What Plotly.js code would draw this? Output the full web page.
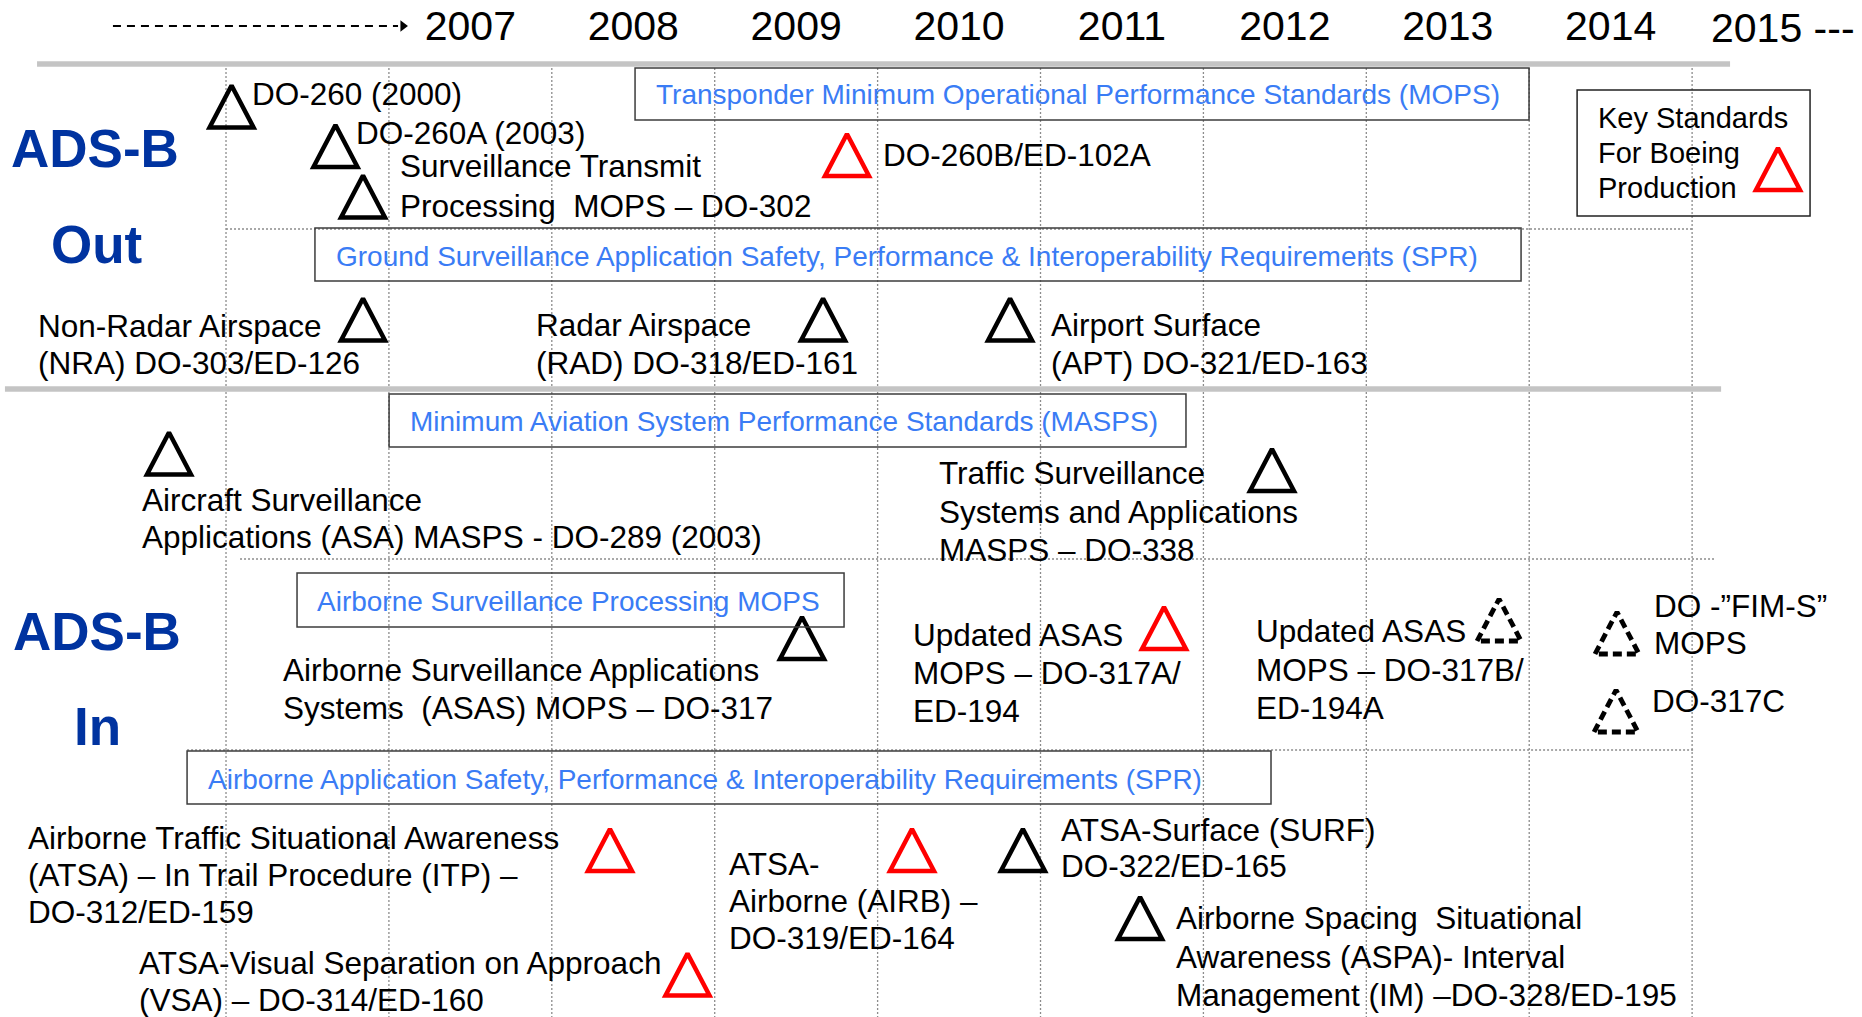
<!DOCTYPE html>
<html><head><meta charset="utf-8">
<script src="https://cdn.plot.ly/plotly-3.0.1.min.js"></script>
<style>html,body{margin:0;padding:0;background:#fff;overflow:hidden}#chart{width:1862px;height:1017px}</style>
</head><body><div id="chart"></div>
<script>
// ---------------- data ----------------
const yearLabels = [2007, 2008, 2009, 2010, 2011, 2012, 2013, 2014];
const gridYears = [2005.5, 2006.5, 2007.5, 2008.5, 2009.5, 2010.5, 2011.5, 2012.5, 2013.5, 2014.5];

// standards (triangles): timeline position (year) and row position
const stdNames = ['DO-260', 'DO-260A', 'DO-302', 'DO-260B/ED-102A', 'DO-303/ED-126', 'DO-318/ED-161',
  'DO-321/ED-163', 'DO-289', 'DO-338', 'DO-317', 'DO-317A/ED-194', 'DO-317B/ED-194A', 'DO-FIM-S',
  'DO-317C', 'DO-312/ED-159', 'DO-314/ED-160', 'DO-319/ED-164', 'DO-322/ED-165', 'DO-328/ED-195'];
const stdYear = [2005.534, 2006.172, 2006.341, 2009.312, 2006.341, 2009.165, 2010.313, 2005.150, 2011.921,
  2009.036, 2011.258, 2013.315, 2014.039, 2014.033, 2007.857, 2008.333, 2009.711, 2010.392, 2011.111];
const stdRow = [106.5, 146, 196.5, 155, 319.5, 319.5, 319.5, 453.5, 470, 638, 628, 620, 633, 711,
  850, 974.5, 850, 850, 918];
const stdStatus = ['pub', 'pub', 'pub', 'boeing', 'pub', 'pub', 'pub', 'pub', 'pub', 'pub', 'boeing',
  'planned', 'planned', 'planned', 'boeing', 'boeing', 'boeing', 'pub', 'pub'];

// labels of the standards
const labelLines = [
  ['DO-260 (2000)'],
  ['DO-260A (2003)'],
  ['Surveillance Transmit', 'Processing\u00a0 MOPS – DO-302'],
  ['DO-260B/ED-102A'],
  ['Non-Radar Airspace', '(NRA) DO-303/ED-126'],
  ['Radar Airspace', '(RAD) DO-318/ED-161'],
  ['Airport Surface', '(APT) DO-321/ED-163'],
  ['Aircraft Surveillance', 'Applications (ASA) MASPS - DO-289 (2003)'],
  ['Traffic Surveillance', 'Systems and Applications', 'MASPS – DO-338'],
  ['Airborne Surveillance Applications', 'Systems\u00a0 (ASAS) MOPS – DO-317'],
  ['Updated ASAS', 'MOPS – DO-317A/', 'ED-194'],
  ['Updated ASAS', 'MOPS – DO-317B/', 'ED-194A'],
  ['DO -”FIM-S”', 'MOPS'],
  ['DO-317C'],
  ['Airborne Traffic Situational Awareness', '(ATSA) – In Trail Procedure (ITP) –', 'DO-312/ED-159'],
  ['ATSA-Visual Separation on Approach', '(VSA) – DO-314/ED-160'],
  ['ATSA-', 'Airborne (AIRB) –', 'DO-319/ED-164'],
  ['ATSA-Surface (SURF)', 'DO-322/ED-165'],
  ['Airborne Spacing\u00a0 Situational', 'Awareness (ASPA)- Interval', 'Management (IM) –DO-328/ED-195']
];

// document groups (boxes)
const groupNames = ['Transponder Minimum Operational Performance Standards (MOPS)',
  'Ground Surveillance Application Safety, Performance & Interoperability Requirements (SPR)',
  'Minimum Aviation System Performance Standards (MASPS)',
  'Airborne Surveillance Processing MOPS',
  'Airborne Application Safety, Performance & Interoperability Requirements (SPR)'];
const groupStart = [2008.011, 2006.046, 2006.501, 2005.936, 2005.261];
const groupEnd = [2013.499, 2013.450, 2011.393, 2009.294, 2011.915];

const sectionNames = ['ADS-B', 'Out', 'ADS-B', 'In'];
const keyLines = ['Key Standards', 'For Boeing', 'Production'];

// ---------------- layout helpers (positions / styles) ----------------
const FONT = 'Liberation Sans, Arial, Helvetica, sans-serif';
const PX_PER_YEAR = 162.9;
const X0 = 2004.1126, X1 = X0 + 1862 / PX_PER_YEAR;
const labelPos = [
  [2005.651, 94, 38], [2006.289, 133, 38], [2006.562, 166, 40], [2009.527, 155, 38],
  [2004.340, 326, 37], [2007.394, 325, 38], [2010.558, 325, 38], [2004.978, 500, 37],
  [2009.871, 473, 38.5], [2005.844, 670, 38], [2009.711, 635, 38], [2011.814, 631, 38.5],
  [2014.257, 606, 37], [2014.248, 701, 38], [2004.278, 838, 37], [2004.960, 963, 36.5],
  [2008.579, 864, 37], [2010.620, 830, 36], [2011.323, 918, 38.5]
];
const groupBoxY = [[68, 120], [228, 281], [394, 447], [573, 627], [751, 804]];
const groupTextPos = [[2008.134, 94], [2006.169, 256], [2006.623, 421], [2006.052, 601], [2005.383, 779]];
const sectionPos = [[2004.696, 148], [2004.705, 244], [2004.711, 631], [2004.711, 726]];

const HW = 22 / PX_PER_YEAR, HH = 21;
function triangles(status, closeTwice) {
  const X = [], Y = [];
  stdYear.forEach((x, i) => {
    if (stdStatus[i] !== status) return;
    const y = stdRow[i];
    X.push(x - HW, x, x + HW, x - HW); Y.push(y + HH, y - HH, y + HH, y + HH);
    if (closeTwice) { X.push(x); Y.push(y - HH); }
    X.push(null); Y.push(null);
  });
  return { X, Y };
}
function lineTrace(x, y, color, width, dash) {
  return { type: 'scatter', mode: 'lines', x, y, hoverinfo: 'skip', showlegend: false,
    line: { color, width, dash: dash || 'solid' } };
}

const traces = [];
// vertical dotted year grid
const gx = [], gy = [];
gridYears.forEach(g => { gx.push(g, g, null); gy.push(64, 1017, null); });
traces.push(lineTrace(gx, gy, '#8c8c8c', 1.3, '2px,2px'));
// horizontal dotted separators
traces.push(lineTrace([2005.5, 2014.5, null, 2005.586, 2014.640, null, 2005.261, 2014.512],
  [229, 229, null, 559, 559, null, 750, 750], '#8c8c8c', 1.3, '2px,2px'));
// thick gray section rules
traces.push(lineTrace([2004.340, 2014.733], [64, 64], '#c4c4c4', 5.5));
traces.push(lineTrace([2004.143, 2014.678], [389, 389], '#c4c4c4', 5.5));
// dashed timeline arrow
traces.push(lineTrace([2004.806, 2006.556], [26, 26], '#000', 2.2, '8px,6px'));
traces.push({ type: 'scatter', mode: 'markers', x: [2006.586], y: [26], hoverinfo: 'skip', showlegend: false,
  marker: { symbol: 'triangle-right', size: 10, color: '#000' } });
// year labels
traces.push({ type: 'scatter', mode: 'text', x: yearLabels, y: yearLabels.map(() => 30),
  text: yearLabels.map(String), textposition: 'middle center', hoverinfo: 'skip', showlegend: false,
  textfont: { family: FONT, size: 41, color: '#000' } });
// triangles
const tPub = triangles('pub', true), tBoe = triangles('boeing', true), tPlan = triangles('planned', false);
traces.push(lineTrace(tPub.X, tPub.Y, '#000000', 4.5));
traces.push(lineTrace(tBoe.X, tBoe.Y, '#ff0000', 4.5));
traces.push(lineTrace(tPlan.X, tPlan.Y, '#000000', 4.8, '9px,5px'));
// key triangle
const kx = 2015.027, ky = 169;
traces.push(lineTrace([kx - HW, kx, kx + HW, kx - HW, kx], [ky + HH, ky - HH, ky + HH, ky + HH, ky - HH], '#ff0000', 4.5));

// annotations
const annotations = [];
function addText(text, x, y, size, color, anchor, bold) {
  annotations.push({ x, y, xref: 'x', yref: 'y', text: bold ? '<b>' + text + '</b>' : text, showarrow: false,
    xanchor: anchor || 'left', yanchor: 'middle', borderpad: 0,
    font: { family: FONT, size, color } });
}
labelLines.forEach((lines, i) => {
  const [x, y, sp] = labelPos[i];
  lines.forEach((t, j) => addText(t, x, y + j * sp, 31.5, '#000'));
});
groupNames.forEach((t, i) => addText(t, groupTextPos[i][0], groupTextPos[i][1], 28, '#3a7cf5'));
sectionNames.forEach((t, i) => addText(t, sectionPos[i][0], sectionPos[i][1], 53, '#0033a0', 'center', true));
keyLines.forEach((t, j) => addText(t, 2013.916, 118 + j * 35, 29, '#000'));
addText('2015 ---', 2014.610, 28, 41, '#000');

// boxes
const shapes = groupNames.map((t, i) => ({ type: 'rect', xref: 'x', yref: 'y',
  x0: groupStart[i], x1: groupEnd[i], y0: groupBoxY[i][0], y1: groupBoxY[i][1],
  line: { color: '#3c3c3c', width: 1.5 }, fillcolor: 'rgba(0,0,0,0)', layer: 'above' }));
shapes.push({ type: 'rect', xref: 'x', yref: 'y', x0: 2013.794, x1: 2015.224, y0: 90, y1: 216,
  line: { color: '#222', width: 1.5 }, fillcolor: 'rgba(0,0,0,0)', layer: 'above' });

const layout = {
  width: 1862, height: 1017, margin: { l: 0, r: 0, t: 0, b: 0, pad: 0 },
  paper_bgcolor: '#fff', plot_bgcolor: '#fff', showlegend: false, hovermode: false, dragmode: false,
  xaxis: { range: [X0, X1], visible: false, fixedrange: true },
  yaxis: { range: [1017, 0], visible: false, fixedrange: true },
  annotations, shapes
};
Plotly.newPlot('chart', traces, layout, { staticPlot: true, displayModeBar: false });
</script></body></html>
